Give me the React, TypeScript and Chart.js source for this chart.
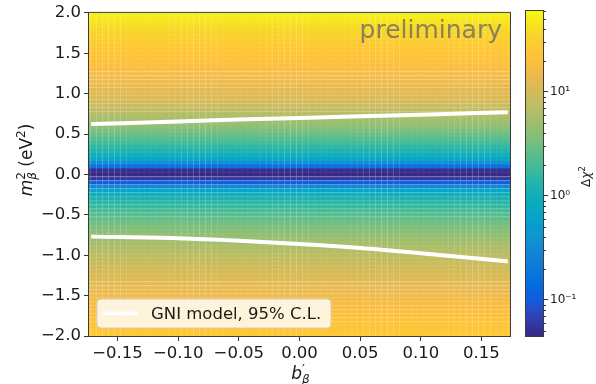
import React, { useEffect, useRef } from "react";
import { Chart, registerables } from "chart.js";

Chart.register(...registerables);

const FONT = "DejaVu Sans";

// ---------------- data ----------------
// heatmap grid (cell centres)
const B_COLUMNS: number[] = Array.from({ length: 71 }, (_, i) => +(-0.175 + i * 0.005).toFixed(3));
const M2_ROWS: number[] = Array.from({ length: 81 }, (_, i) => +(-2 + i * 0.05).toFixed(2));
const DCHI2_ROWS: number[] = [
  27, 25.6, 24.3, 23, 21.7, 20.5, 19.4, 18.3, 17.2, 16.2,
  15.2, 14.2, 13.3, 12.4, 11.6, 10.8, 10, 9.3, 8.6, 7.9,
  7.2, 6.6, 6.0, 5.4, 4.9, 4.4, 3.9, 3.5, 3.1, 2.7,
  2.35, 2.0, 1.7, 1.45, 1.2, 0.95, 0.62, 0.3, 0.1, 0.055,
  0.045,
  0.05, 0.16, 0.4, 0.72, 1.0, 1.3, 1.6, 2.0, 2.4, 2.9,
  3.5, 4.2, 4.9, 5.7, 6.7, 7.7, 8.8, 10, 11, 12,
  13, 14, 15, 16, 17, 18, 19.5, 21, 22.5, 24,
  26, 28, 30, 32, 35, 38, 41, 45, 49, 52,
];
const ROW_HALF = 0.025;

// GNI model 95% C.L. contour
const B_CONTOUR: number[] = [-0.17, -0.1, -0.05, 0, 0.05, 0.1, 0.17];
const M2_UPPER: number[] = [0.625, 0.655, 0.68, 0.7, 0.72, 0.74, 0.77];
const M2_LOWER: number[] = [-0.77, -0.79, -0.82, -0.86, -0.91, -0.975, -1.075];

const X_TICKS: number[] = [-0.15, -0.1, -0.05, 0, 0.05, 0.1, 0.15];
const Y_TICKS: number[] = [-2, -1.5, -1, -0.5, 0, 0.5, 1, 1.5, 2];
const CB_TICKS: number[] = [0.1, 1, 10];
const CB_TICK_LABELS: string[] = ["10\u207B\u00B9", "10\u2070", "10\u00B9"];
const CB_MINOR: number[] = [0.05, 0.06, 0.07, 0.08, 0.09, 0.2, 0.3, 0.4, 0.5, 0.6, 0.7, 0.8, 0.9, 2, 3, 4, 5, 6, 7, 8, 9, 20, 30, 40, 50, 60];
const VMIN = 0.045;
const VMAX = 60;
const LEGEND_LABEL = "GNI model, 95% C.L.";
const WATERMARK = "preliminary";

// parula-like colormap stops [pos, r, g, b]
const CMAP: number[][] = [
  [0 / 63, 0.2081, 0.1663, 0.5292],
  [4 / 63, 0.1959, 0.2645, 0.7279],
  [7 / 63, 0.0591, 0.3598, 0.8683],
  [10 / 63, 0.0165, 0.4266, 0.8786],
  [14 / 63, 0.0723, 0.4887, 0.8467],
  [18 / 63, 0.0641, 0.557, 0.824],
  [22 / 63, 0.0239, 0.6287, 0.8038],
  [26 / 63, 0.0384, 0.6743, 0.7436],
  [30 / 63, 0.1453, 0.7098, 0.6646],
  [34 / 63, 0.3022, 0.7376, 0.5712],
  [38 / 63, 0.4871, 0.7491, 0.484],
  [42 / 63, 0.6473, 0.7456, 0.4188],
  [46 / 63, 0.7858, 0.7356, 0.3633],
  [50 / 63, 0.9139, 0.7258, 0.3063],
  [53 / 63, 0.9938, 0.7455, 0.2403],
  [56 / 63, 0.9955, 0.7861, 0.1967],
  [59 / 63, 0.9697, 0.8481, 0.1475],
  [62 / 63, 0.9661, 0.9514, 0.0755],
  [63 / 63, 0.9763, 0.9831, 0.0538],
];

function cmapRGB(t: number): number[] {
  t = Math.max(0, Math.min(1, t));
  for (let i = 1; i < CMAP.length; i++) {
    if (t <= CMAP[i][0]) {
      const a = CMAP[i - 1], b = CMAP[i];
      const f = (t - a[0]) / (b[0] - a[0] || 1);
      return [1, 2, 3].map((k) => (a[k] + (b[k] - a[k]) * f) * 255);
    }
  }
  const l = CMAP[CMAP.length - 1];
  return [l[1] * 255, l[2] * 255, l[3] * 255];
}
function rgbFor(v: number): number[] {
  const t = (Math.log10(v) - Math.log10(VMIN)) / (Math.log10(VMAX) - Math.log10(VMIN));
  return cmapRGB(t);
}
const css = (c: number[], lift = 0) =>
  `rgb(${c.map((x) => Math.round(x + (255 - x) * lift)).join(",")})`;

const fmt = (v: number, d: number) => (v < -1e-9 ? "\u2212" : "") + Math.abs(v).toFixed(d);

type Run = { t?: string; f?: string; dy?: number; sup?: string; sub?: string; fs?: string; fb?: string; dsup?: number; dsub?: number };

function runWidth(ctx: CanvasRenderingContext2D, r: Run): number {
  if (r.t !== undefined) {
    ctx.font = r.f!;
    return ctx.measureText(r.t).width;
  }
  let w = 0;
  if (r.sup) { ctx.font = r.fs!; w = Math.max(w, ctx.measureText(r.sup).width); }
  if (r.sub) { ctx.font = r.fb!; w = Math.max(w, ctx.measureText(r.sub).width); }
  return w;
}
function drawRuns(ctx: CanvasRenderingContext2D, runs: Run[], cx: number, by: number) {
  const total = runs.reduce((s, r) => s + runWidth(ctx, r), 0);
  let x = cx - total / 2;
  ctx.textAlign = "left";
  ctx.textBaseline = "alphabetic";
  for (const r of runs) {
    const w = runWidth(ctx, r);
    if (r.t !== undefined) {
      ctx.font = r.f!;
      ctx.fillText(r.t, x, by + (r.dy || 0));
    } else {
      if (r.sup) { ctx.font = r.fs!; ctx.fillText(r.sup, x, by + (r.dsup || 0)); }
      if (r.sub) { ctx.font = r.fb!; ctx.fillText(r.sub, x, by + (r.dsub || 0)); }
    }
    x += w;
  }
}

const mainPlugin = {
  id: "mainDecor",
  afterDraw(chart: any) {
    const { ctx, chartArea: a } = chart;
    ctx.save();
    // frame
    ctx.strokeStyle = "#3c3c3c";
    ctx.lineWidth = 1;
    ctx.strokeRect(a.left - 0.5, a.top - 0.5, a.right - a.left + 1, a.bottom - a.top + 1);

    // watermark
    ctx.fillStyle = "rgba(100,100,100,0.75)";
    ctx.font = `25px "${FONT}"`;
    ctx.textAlign = "right";
    ctx.textBaseline = "alphabetic";
    ctx.fillText(WATERMARK, a.right - 8, a.top + 25);

    // legend
    const bx = a.left + 8, by = a.bottom - 37, bw = 234, bh = 29, r = 4;
    ctx.beginPath();
    ctx.moveTo(bx + r, by);
    ctx.lineTo(bx + bw - r, by);
    ctx.quadraticCurveTo(bx + bw, by, bx + bw, by + r);
    ctx.lineTo(bx + bw, by + bh - r);
    ctx.quadraticCurveTo(bx + bw, by + bh, bx + bw - r, by + bh);
    ctx.lineTo(bx + r, by + bh);
    ctx.quadraticCurveTo(bx, by + bh, bx, by + bh - r);
    ctx.lineTo(bx, by + r);
    ctx.quadraticCurveTo(bx, by, bx + r, by);
    ctx.closePath();
    ctx.fillStyle = "rgba(255,255,255,0.8)";
    ctx.fill();
    ctx.strokeStyle = "rgba(204,204,204,0.9)";
    ctx.lineWidth = 1;
    ctx.stroke();
    ctx.beginPath();
    ctx.moveTo(bx + 6, by + 14.5);
    ctx.lineTo(bx + 41, by + 14.5);
    ctx.strokeStyle = "#ffffff";
    ctx.lineWidth = 4;
    ctx.lineCap = "butt";
    ctx.stroke();
    ctx.fillStyle = "#1a1a1a";
    ctx.font = `16.5px "${FONT}"`;
    ctx.textAlign = "left";
    ctx.fillText(chart.data.datasets.find((d: any) => d.label)?.label || LEGEND_LABEL, bx + 54, by + 20);

    // axis titles
    ctx.fillStyle = "#1a1a1a";
    const it = (s: number) => `italic ${s}px "${FONT}"`;
    const rm = (s: number) => `${s}px "${FONT}"`;
    drawRuns(ctx, [
      { t: "b", f: it(17) },
      { sup: "\u2032", fs: rm(13), dsup: -6, sub: "\u03B2", fb: it(12), dsub: 4 },
    ], (a.left + a.right) / 2 + 1, 379);

    ctx.save();
    ctx.translate(32, 160);
    ctx.rotate(-Math.PI / 2);
    drawRuns(ctx, [
      { t: "m", f: it(17) },
      { sup: "2", fs: rm(12), dsup: -7, sub: "\u03B2", fb: it(12), dsub: 4 },
      { t: " (eV", f: rm(17) },
      { t: "2", f: rm(12), dy: -7 },
      { t: ")", f: rm(17) },
    ], 0, 0);
    ctx.restore();
    ctx.restore();
  },
};

const cbPlugin = {
  id: "cbDecor",
  afterDraw(chart: any) {
    const { ctx, chartArea: a } = chart;
    const y = chart.scales.y;
    ctx.save();
    ctx.strokeStyle = "#3c3c3c";
    ctx.lineWidth = 1;
    ctx.strokeRect(a.left - 0.5, a.top - 0.5, a.right - a.left + 1, a.bottom - a.top + 1);
    ctx.beginPath();
    for (const v of CB_MINOR) {
      if (v < VMIN || v > VMAX) continue;
      const p = Math.round(y.getPixelForValue(v)) + 0.5;
      ctx.moveTo(a.right, p);
      ctx.lineTo(a.right + 3, p);
    }
    ctx.strokeStyle = "#333";
    ctx.stroke();
    // title
    ctx.fillStyle = "#1a1a1a";
    ctx.translate(590, (a.top + a.bottom) / 2 + 3);
    ctx.rotate(-Math.PI / 2);
    drawRuns(ctx, [
      { t: "\u0394", f: `12px "${FONT}"` },
      { t: "\u03C7", f: `italic 12px "${FONT}"` },
      { t: "2", f: `9px "${FONT}"`, dy: -5 },
    ], 0, 0);
    ctx.restore();
  },
};

export default function App() {
  const mainRef = useRef<HTMLCanvasElement>(null);
  const cbRef = useRef<HTMLCanvasElement>(null);

  useEffect(() => {
    const tickFont = { family: FONT, size: 16.5 };
    const heat = M2_ROWS.map((m, j) => {
      const c = rgbFor(DCHI2_ROWS[j]);
      return {
        type: "bar" as const,
        data: B_COLUMNS.map((b) => ({ x: b, y: [m - ROW_HALF, m + ROW_HALF] })),
        backgroundColor: css(c),
        borderColor: css(c, 0.07),
        borderWidth: { top: 1, right: 1, bottom: 0, left: 0 },
        borderSkipped: false,
        grouped: false,
        barPercentage: 1,
        categoryPercentage: 1,
        order: 2,
      };
    });
    const lineStyle = {
      type: "line" as const,
      borderColor: "#ffffff",
      borderWidth: 4,
      pointRadius: 0,
      tension: 0.3,
      cubicInterpolationMode: "monotone" as const,
      borderCapStyle: "square" as const,
      fill: false,
      order: 0,
    };
    const main = new Chart(mainRef.current!, {
      type: "bar",
      data: {
        datasets: [
          ...heat,
          { ...lineStyle, label: LEGEND_LABEL, data: B_CONTOUR.map((b, i) => ({ x: b, y: M2_UPPER[i] })) },
          { ...lineStyle, data: B_CONTOUR.map((b, i) => ({ x: b, y: M2_LOWER[i] })) },
        ] as any,
      },
      options: {
        responsive: false,
        animation: false,
        events: [],
        layout: { padding: { top: 11, right: 86, left: 0, bottom: 0 } },
        plugins: { legend: { display: false }, tooltip: { enabled: false } },
        scales: {
          x: {
            type: "linear",
            min: -0.1735,
            max: 0.1735,
            offset: false,
            grid: { offset: false, drawOnChartArea: false, drawTicks: true, tickLength: 5, color: "#333" },
            border: { display: false },
            ticks: { font: tickFont, color: "#1a1a1a", padding: 3, maxRotation: 0, autoSkip: false, callback: (v: any) => fmt(+v, 2) },
            afterBuildTicks: (s: any) => { s.ticks = X_TICKS.map((v) => ({ value: v })); },
            afterFit: (s: any) => { s.height = 48; },
          },
          y: {
            type: "linear",
            min: -2,
            max: 2,
            beginAtZero: false,
            grid: { drawOnChartArea: false, drawTicks: true, tickLength: 5, color: "#333" },
            border: { display: false },
            ticks: { font: tickFont, color: "#1a1a1a", padding: 3, autoSkip: false, callback: (v: any) => fmt(+v, 1) },
            afterBuildTicks: (s: any) => { s.ticks = Y_TICKS.map((v) => ({ value: v })); },
            afterFit: (s: any) => { s.width = 89; },
          },
        },
      } as any,
      plugins: [mainPlugin],
    });

    const N = 160;
    const levels = Array.from({ length: N + 1 }, (_, k) => VMIN * Math.pow(VMAX / VMIN, k / N));
    const cbSets = levels.slice(0, -1).map((lo, k) => ({
      data: [[lo, levels[k + 1]]],
      backgroundColor: css(rgbFor(Math.sqrt(lo * levels[k + 1]))),
      borderWidth: 0,
      grouped: false,
      barPercentage: 1,
      categoryPercentage: 1,
    }));
    const cb = new Chart(cbRef.current!, {
      type: "bar",
      data: { labels: ["cb"], datasets: cbSets as any },
      options: {
        responsive: false,
        animation: false,
        events: [],
        layout: { padding: { top: 11, right: 0, left: 526, bottom: 48 } },
        plugins: { legend: { display: false }, tooltip: { enabled: false } },
        scales: {
          x: { type: "category", display: false },
          y: {
            type: "logarithmic",
            position: "right",
            min: VMIN,
            max: VMAX,
            grid: { drawOnChartArea: false, drawTicks: true, tickLength: 5, color: "#333" },
            border: { display: false },
            ticks: {
              font: { family: FONT, size: 12 },
              color: "#1a1a1a",
              padding: 2,
              autoSkip: false,
              callback: (v: any) => {
                const i = CB_TICKS.findIndex((t) => Math.abs(t - +v) < 1e-9);
                return i >= 0 ? CB_TICK_LABELS[i] : "";
              },
            },
            afterBuildTicks: (s: any) => { s.ticks = CB_TICKS.map((v) => ({ value: v })); },
            afterFit: (s: any) => { s.width = 53; },
          },
        },
      } as any,
      plugins: [cbPlugin],
    });

    return () => {
      main.destroy();
      cb.destroy();
    };
  }, []);

  return (
    <div style={{ position: "absolute", left: 0, top: 0, width: 596, height: 384, background: "#fff" }}>
      <canvas ref={mainRef} width={596} height={384} style={{ position: "absolute", left: 0, top: 0 }} />
      <canvas ref={cbRef} width={596} height={384} style={{ position: "absolute", left: 0, top: 0 }} />
    </div>
  );
}
